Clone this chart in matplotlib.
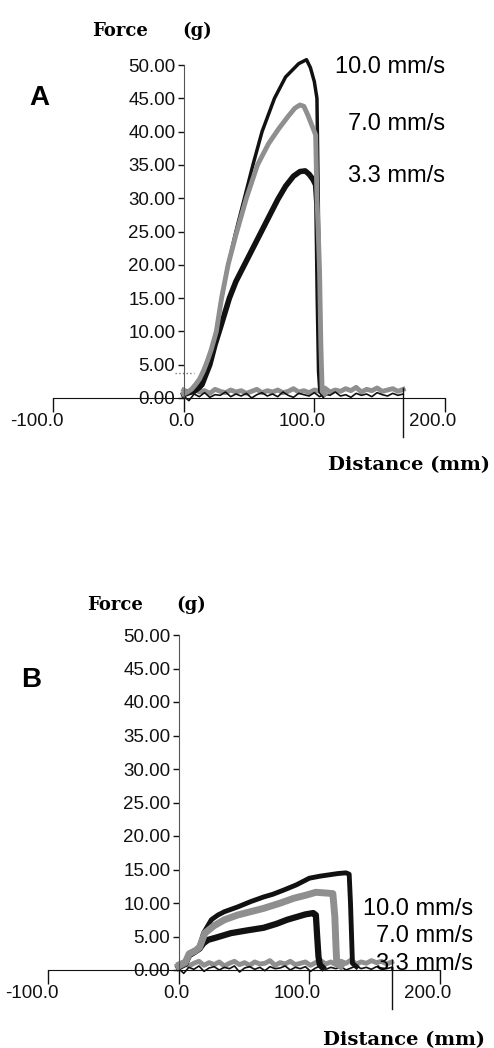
import numpy as np
import matplotlib.pyplot as plt
from matplotlib.transforms import ScaledTranslation

W, H = 494, 1048
fig = plt.figure(figsize=(W / 100, H / 100), dpi=100)

tick_font = ['Liberation Sans', 'DejaVu Sans']
label_font = 'DejaVu Serif'

x_ticks = [-100, 0, 100, 200]
x_labels = ['-100.0', '0.0', '100.0', '200.0']
y_ticks = [0, 5, 10, 15, 20, 25, 30, 35, 40, 45, 50]
y_labels = ['0.00', '5.00', '10.00', '15.00', '20.00', '25.00',
            '30.00', '35.00', '40.00', '45.00', '50.00']
speeds = ['10.0 mm/s', '7.0 mm/s', '3.3 mm/s']

# ---- panel A : force vs distance ----
a10_x = [0, 3, 6, 9, 12, 15, 18, 21, 25, 29, 34, 40, 46.5, 53, 60, 69.5, 78, 88, 94, 97, 100, 102, 103, 104, 105, 107]
a10_y = [0.5, 1.0, 1.2, 1.8, 2.5, 3.8, 5.2, 7.0, 10.0, 15.0, 20.0, 25.0, 30.0, 35.0, 40.0, 45.0, 48.2, 50.2, 50.8, 49.6, 47.5, 45.0, 30.0, 10.0, 1.0, 0.5]
a7_x = [0, 3, 6, 9, 12, 15, 18, 21, 25, 29, 34, 40, 48, 56.5, 65, 73, 80, 85, 89, 92, 95, 98, 101, 102, 103, 104, 105, 106, 108]
a7_y = [0.6, 0.9, 1.3, 2.0, 2.8, 4.0, 5.5, 7.2, 10.0, 15.0, 20.0, 24.5, 30.0, 35.0, 38.2, 40.5, 42.3, 43.5, 44.0, 43.8, 42.5, 41.0, 39.5, 30.0, 25.0, 19.0, 8.0, 1.0, 0.6]
a3_x = [0, 4, 8, 12, 14, 20, 24, 28, 35, 40, 46.5, 53, 59.5, 66, 72, 78, 84, 89, 93, 96, 99, 101, 102, 103, 104, 105, 107]
a3_y = [0.5, 0.8, 1.0, 1.6, 2.0, 5.0, 8.0, 10.5, 15.0, 17.5, 20.0, 22.5, 25.0, 27.5, 29.8, 31.8, 33.3, 34.0, 34.1, 33.6, 32.8, 32.0, 29.0, 15.0, 4.0, 1.0, 0.5]
a_base_gray = [1.2, 0.8, 1.4, 0.9, 1.1, 0.7, 1.3, 1.0, 0.8, 1.2, 0.9, 1.1, 0.7, 1.0, 1.3,
               0.8, 1.1, 0.9, 1.2, 0.8, 1.0, 1.4, 0.9, 1.1, 0.8, 1.2, 1.0, 1.5, 0.9, 1.2,
               1.0, 1.4, 1.1, 1.6, 0.9, 1.3, 1.1, 1.5, 1.0, 1.2, 1.4, 1.0, 1.3]
a_base_black = [0.3, -0.4, 0.6, 0.2, 0.8, 0.1, 0.5, 0.4, 0.9, 0.2, 0.6, 0.3, 0.7, 0.0, 0.5,
                0.8, 0.3, 0.6, 0.2, 0.9, 0.4, 0.1, 0.7, 0.5, 0.3, 0.8, 0.2, 0.6, 0.4, 0.9,
                0.3, 0.5, 0.1, 0.7, 0.4, 0.6, 0.2, 0.8, 0.5, 0.3, 0.7, 0.4, 0.6]
a_cursor = 168

# ---- panel B ----
b10_x = [0, 5, 8, 13, 16, 19, 22, 25, 30, 35, 45, 55, 65, 72, 80, 90, 100, 108, 115, 122, 128, 130.5, 131.5, 132.5, 133, 136]
b10_y = [0.5, 1.0, 2.5, 3.0, 3.5, 5.5, 6.5, 7.5, 8.2, 8.7, 9.4, 10.2, 10.9, 11.3, 11.9, 12.7, 13.7, 14.0, 14.2, 14.4, 14.5, 14.3, 10.0, 4.0, 1.0, 0.5]
b7_x = [0, 5, 8, 13, 16, 20, 27, 35, 45, 55, 65, 78, 88, 98, 105, 112, 118, 119.5, 120.5, 121, 124]
b7_y = [0.6, 1.1, 2.4, 2.9, 3.4, 5.5, 6.6, 7.5, 8.2, 8.7, 9.2, 10.0, 10.7, 11.2, 11.6, 11.5, 11.4, 8.0, 3.0, 1.0, 0.6]
b3_x = [0, 5, 8, 13, 16, 19, 22.5, 28, 40, 52, 65, 75, 83, 90, 97, 103, 105, 106, 107, 108, 110]
b3_y = [0.4, 0.9, 2.2, 2.8, 3.2, 4.0, 4.5, 4.8, 5.5, 5.9, 6.3, 6.9, 7.5, 7.9, 8.3, 8.5, 8.2, 5.0, 2.0, 0.8, 0.4]
b_base_gray = [0.9, 1.2, 0.6, 1.0, 1.3, 0.7, 1.1, 0.8, 1.2, 0.6, 1.0, 1.3, 0.8, 1.1, 0.7,
               1.2, 0.9, 1.0, 1.4, 0.7, 1.1, 0.9, 1.3, 0.8, 1.0, 1.2, 0.7, 1.1, 1.4, 0.9,
               1.2, 0.8, 1.3, 1.0, 1.5, 0.9, 1.2, 1.0, 1.4, 1.1, 1.3, 0.9, 1.2]
b_base_black = [0.2, -0.5, 0.4, 0.1, 0.6, -0.2, 0.3, 0.5, 0.0, 0.4, 0.2, 0.6, -0.3, 0.3, 0.5,
                0.1, 0.4, -0.1, 0.5, 0.2, 0.3, 0.6, 0.0, 0.4, 0.2, 0.5, -0.2, 0.3, 0.6, 0.1,
                0.4, 0.2, 0.5, 0.0, 0.3, 0.6, 0.2, 0.4, 0.1, 0.5, 0.3, 0.2, 0.4]
b_cursor = 163

BLACK = '#111111'
GRAY = '#8f8f8f'


def px_axes(left, right, top, bottom):
    return fig.add_axes([left / W, 1 - bottom / H, (right - left) / W, (bottom - top) / H])


def style(ax):
    ax.set_xlim(-100, 200)
    ax.set_ylim(0, 50)
    ax.patch.set_visible(False)
    ax.spines['left'].set_position(('data', 0))
    ax.spines['top'].set_visible(False)
    ax.spines['right'].set_visible(False)
    ax.spines['left'].set_color('#555555')
    ax.spines['bottom'].set_color(BLACK)
    ax.set_xticks(x_ticks)
    ax.set_xticklabels(x_labels, family=tick_font, fontsize=13.5)
    ax.set_yticks(y_ticks)
    ax.set_yticklabels(y_labels, family=tick_font, fontsize=13.5)
    ax.tick_params(axis='x', direction='out', length=10, width=1, pad=1, colors=BLACK)
    ax.tick_params(axis='y', direction='out', length=4, width=1, pad=2, colors=BLACK)
    shift = ScaledTranslation(0.11, 0, fig.dpi_scale_trans)
    for lab in ax.get_xticklabels():
        lab.set_ha('right')
        lab.set_transform(lab.get_transform() + shift)


def draw(ax, c10, c7, c3, base_gray, base_black, cursor, widths):
    bx = np.linspace(0, cursor, len(base_gray))
    ax.plot(bx, base_gray, color=GRAY, lw=3.5, clip_on=False)
    ax.plot(bx, base_black, color=BLACK, lw=1.2, clip_on=False)
    ax.plot(c3[0], c3[1], color=BLACK, lw=widths[2], clip_on=False)
    ax.plot(c10[0], c10[1], color=BLACK, lw=widths[0], clip_on=False)
    ax.plot(c7[0], c7[1], color=GRAY, lw=widths[1], clip_on=False)
    ax.plot([cursor, cursor], [1.5, -5.8], color=BLACK, lw=1.0, clip_on=False)


def fig_text(x, y, s, **kw):
    fig.text(x / W, 1 - y / H, s, **kw)


# panel A
axA = px_axes(53, 445, 65, 398)
style(axA)
draw(axA, (a10_x, a10_y), (a7_x, a7_y), (a3_x, a3_y), a_base_gray, a_base_black, a_cursor,
     (2.5, 3.5, 4.0))
axA.plot([-7, 8], [3.8, 3.8], color='#777777', lw=1, ls=':', clip_on=False)

# panel B
axB = px_axes(48, 440, 635, 970)
style(axB)
draw(axB, (b10_x, b10_y), (b7_x, b7_y), (b3_x, b3_y), b_base_gray, b_base_black, b_cursor,
     (3.5, 5.0, 4.5))

# texts
fig_text(39, 105, 'A', fontsize=20, fontweight='bold', family='Liberation Sans', ha='center')
fig_text(31, 687, 'B', fontsize=20, fontweight='bold', family='Liberation Sans', ha='center')

for yy, (fx, gx) in [(36, (92, 182)), (610, (87, 176))]:
    fig_text(fx, yy, 'Force', fontsize=13, fontweight='bold', family=label_font)
    fig_text(gx, yy, '(g)', fontsize=13, fontweight='bold', family=label_font)

fig_text(328, 470, 'Distance (mm)', fontsize=14, fontweight='bold', family=label_font)
fig_text(323, 1045, 'Distance (mm)', fontsize=14, fontweight='bold', family=label_font)

for s, yy in zip(speeds, [73, 130, 182]):
    fig_text(445, yy, s, fontsize=17, family='Liberation Sans', ha='right', va='baseline')
for s, yy in zip(speeds, [915, 942, 970]):
    fig_text(473, yy, s, fontsize=17, family='Liberation Sans', ha='right', va='baseline')

fig.savefig('out.png', dpi=100)
